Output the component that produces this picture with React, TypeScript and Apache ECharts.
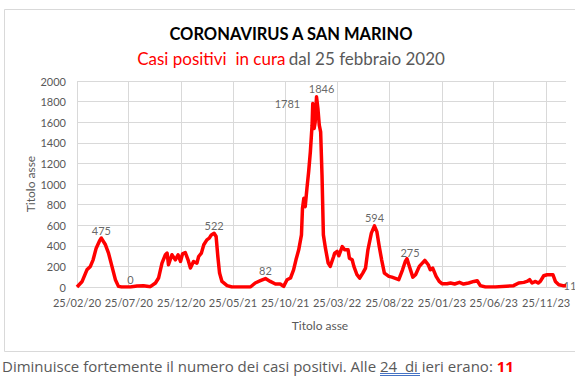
import React, { useEffect, useRef } from "react";
import * as echarts from "echarts";

const DATES = [
  "2020-02-25","2020-03-11","2020-03-25","2020-04-04","2020-04-12","2020-04-21","2020-05-01","2020-05-06","2020-05-18","2020-05-27",
  "2020-06-06","2020-06-16","2020-06-25","2020-07-04","2020-07-30","2020-08-18","2020-09-06","2020-09-26","2020-10-11","2020-10-20",
  "2020-10-30","2020-11-09","2020-11-14","2020-11-18","2020-11-28","2020-12-08","2020-12-16","2020-12-23","2020-12-29","2021-01-06",
  "2021-01-14","2021-01-21","2021-01-30","2021-02-09","2021-02-14","2021-02-22","2021-03-01","2021-03-10","2021-03-17","2021-03-23",
  "2021-03-31","2021-04-06","2021-04-11","2021-04-16","2021-04-23","2021-05-08","2021-05-22","2021-07-15","2021-07-29","2021-08-13",
  "2021-08-28","2021-09-11","2021-09-26","2021-10-10","2021-10-20","2021-10-30","2021-11-09","2021-11-18","2021-11-25","2021-12-03",
  "2021-12-11","2021-12-14","2021-12-18","2021-12-22","2021-12-27","2022-01-01","2022-01-06","2022-01-11","2022-01-13","2022-01-17",
  "2022-01-20","2022-01-24","2022-01-28","2022-02-01","2022-02-05","2022-02-09","2022-02-13","2022-02-19","2022-02-27","2022-03-05",
  "2022-03-15","2022-03-18","2022-03-25","2022-03-30","2022-04-09","2022-04-16","2022-04-26","2022-04-30","2022-05-08","2022-05-13",
  "2022-05-22","2022-05-30","2022-06-08","2022-06-16","2022-06-23","2022-07-03","2022-07-12","2022-07-19","2022-07-26","2022-08-02",
  "2022-08-10","2022-08-23","2022-09-01","2022-09-11","2022-09-21","2022-10-02","2022-10-10","2022-10-15","2022-10-22","2022-11-01",
  "2022-11-09","2022-11-20","2022-12-06","2022-12-16","2022-12-22","2022-12-29","2023-01-08","2023-01-17","2023-01-25","2023-02-09",
  "2023-02-19","2023-03-03","2023-03-17","2023-03-29","2023-04-13","2023-04-28","2023-05-08","2023-05-17","2023-06-01","2023-06-30",
  "2023-08-22","2023-09-06","2023-09-21","2023-09-30","2023-10-08","2023-10-15","2023-10-25","2023-11-02","2023-11-08","2023-11-18",
  "2023-11-28","2023-12-15","2023-12-22","2024-01-01","2024-01-13","2024-01-22"
];

const VALUES = [
  0,54,167,200,264,377,450,475,410,329,
  200,71,6,0,0,10,13,3,39,87,
  232,313,329,216,313,264,313,248,322,335,
  264,184,248,232,296,329,410,458,474,506,
  522,490,296,135,54,13,0,0,39,61,
  82,54,29,29,6,70,87,167,264,361,
  506,765,861,780,958,1119,1313,1571,1781,1539,
  1600,1846,1733,1571,1507,1087,506,377,232,200,
  296,329,345,303,393,361,361,280,264,200,
  119,87,135,184,361,523,594,538,393,264,
  135,103,96,84,71,167,248,275,200,96,
  119,200,258,216,167,184,103,54,32,32,
  39,29,45,29,39,54,61,13,0,0,
  13,39,45,54,71,39,54,39,54,109,
  119,119,54,22,13,11
];

const LABEL_DATES = ["2020-05-06","2020-07-30","2021-03-31","2021-08-28","2022-01-13","2022-01-24","2022-07-12","2022-10-15","2024-01-22"];
const LABEL_VALUES = [475, 0, 522, 82, 1781, 1846, 594, 275, 11];
const LABEL_POSITIONS = ["top","top","top","top","left","top","top","top","right"];

const TICK_DATES = ["2020-02-25","2020-07-25","2020-12-25","2021-05-25","2021-10-25","2022-03-25","2022-08-25","2023-01-25","2023-06-25","2023-11-25"];
const X_MIN = "2020-02-25";
const X_MAX = "2024-01-22";

const TITLE = "CORONAVIRUS A SAN MARINO";
const SUB_RED = "Casi positivi  in cura";
const SUB_GREY = "dal 25 febbraio 2020";
const AXIS_TITLE = "Titolo asse";
const NOTE_A = "Diminuisce fortemente il numero dei casi positivi. Alle ";
const NOTE_U = "24  di";
const NOTE_B = " ieri erano: ";
const NOTE_V = "11";

function toTs(s: string) {
  const [y, m, d] = s.split("-").map(Number);
  return Date.UTC(y, m - 1, d);
}
function fmt(v: number) {
  const d = new Date(v);
  const p = (n: number) => (n < 10 ? "0" + n : "" + n);
  return p(d.getUTCDate()) + "/" + p(d.getUTCMonth() + 1) + "/" + p(d.getUTCFullYear() % 100);
}

export default function App() {
  const ref = useRef<HTMLDivElement>(null);
  useEffect(() => {
    if (!ref.current) return;
    const chart = echarts.init(ref.current, null, { renderer: "svg" });
    const ticks = TICK_DATES.map(toTs);
    const font = "Lato";
    const labelData = LABEL_DATES.map((d, i) => {
      const pos = LABEL_POSITIONS[i];
      const item: any = { value: [toTs(d), LABEL_VALUES[i]], label: { position: pos, distance: 2 } };
      if (LABEL_VALUES[i] === 1781) item.label.distance = 12;
      if (LABEL_VALUES[i] === 1846) item.label.offset = [5, 0];
      if (LABEL_VALUES[i] === 275) { item.label.offset = [3, 0]; item.label.distance = 0; }
      if (LABEL_VALUES[i] === 11) { item.label.offset = [-3, 0]; item.label.distance = 0; }
      return item;
    });
    chart.setOption({
      animation: false,
      backgroundColor: "#ffffff",
      grid: { left: 77, right: 9, top: 81, bottom: 94 },
      xAxis: {
        type: "value",
        min: toTs(X_MIN),
        max: toTs(X_MAX),
        axisLine: { show: true, lineStyle: { color: "#d9d9d9", width: 1 } },
        axisTick: { show: false, customValues: ticks },
        axisLabel: {
          customValues: ticks,
          formatter: (v: number) => fmt(v),
          color: "#595959",
          fontFamily: font,
          fontSize: 11,
          margin: 10,
          showMinLabel: true,
          showMaxLabel: true,
        },
        splitLine: { show: true, lineStyle: { color: "#d9d9d9", width: 1 } },
      },
      yAxis: {
        type: "value",
        min: 0,
        max: 2000,
        interval: 200,
        axisLine: { show: false },
        axisTick: { show: false },
        axisLabel: { color: "#595959", fontFamily: font, fontSize: 11, margin: 11, formatter: (v: number) => String(v) },
        splitLine: { show: true, lineStyle: { color: "#d9d9d9", width: 1 } },
      },
      series: [
        {
          type: "line",
          data: DATES.map((d, i) => [toTs(d), VALUES[i]]),
          symbol: "none",
          lineStyle: { color: "#ff0000", width: 3.5, join: "round" },
          itemStyle: { color: "#ff0000" },
          z: 3,
        },
        {
          type: "scatter",
          data: labelData,
          symbolSize: 1,
          itemStyle: { color: "rgba(0,0,0,0)" },
          label: {
            show: true,
            formatter: (p: any) => String(p.value[1]),
            color: "#404040",
            fontFamily: font,
            fontSize: 11,
          },
          z: 4,
        },
      ],
      graphic: [
        {
          type: "rect",
          shape: { x: 4.5, y: 9.5, width: 600, height: 342 },
          style: { fill: "none", stroke: "#d9d9d9", lineWidth: 1 },
          silent: true,
        },
        {
          type: "text",
          x: 291,
          y: 34,
          style: {
            text: TITLE,
            fill: "#000000",
            font: "bold 16.5px Lato",
            align: "center",
            verticalAlign: "middle",
          },
        },
        {
          type: "text",
          x: 291,
          y: 58,
          style: {
            text: "{r|" + SUB_RED + "} {g|" + SUB_GREY + "}",
            align: "center",
            verticalAlign: "middle",
            rich: {
              r: { fill: "#ff0000", fontFamily: font, fontSize: 17 },
              g: { fill: "#595959", fontFamily: font, fontSize: 17 },
            },
          } as any,
        },
        {
          type: "text",
          x: 30,
          y: 184,
          rotation: Math.PI / 2,
          style: {
            text: AXIS_TITLE,
            fill: "#595959",
            font: "12px Lato",
            align: "center",
            verticalAlign: "middle",
          },
        },
        {
          type: "text",
          x: 320,
          y: 325,
          style: {
            text: AXIS_TITLE,
            fill: "#595959",
            font: "12px Lato",
            align: "center",
            verticalAlign: "middle",
          },
        },
        {
          type: "text",
          x: 2,
          y: 366,
          style: {
            text: "{g|" + NOTE_A + "}{u|" + NOTE_U + "}{g|" + NOTE_B + "}{b|" + NOTE_V + "}",
            align: "left",
            verticalAlign: "middle",
            rich: {
              g: { fill: "#595959", fontFamily: "Open Sans", fontSize: 15 },
              u: { fill: "#595959", fontFamily: "Open Sans", fontSize: 15 },
              b: { fill: "#ff0000", fontFamily: "Open Sans", fontSize: 15, fontWeight: "bold" },
            },
          } as any,
        },
        {
          type: "line",
          shape: { x1: 380, y1: 373.5, x2: 420, y2: 373.5 },
          style: { stroke: "#4472c4", lineWidth: 1 },
        },
        {
          type: "line",
          shape: { x1: 380, y1: 375.5, x2: 420, y2: 375.5 },
          style: { stroke: "#4472c4", lineWidth: 1 },
        },
      ],
    });
    return () => chart.dispose();
  }, []);
  return (
    <div
      ref={ref}
      style={{ position: "fixed", left: 0, top: 0, width: 575, height: 381, background: "#fff" }}
    />
  );
}
